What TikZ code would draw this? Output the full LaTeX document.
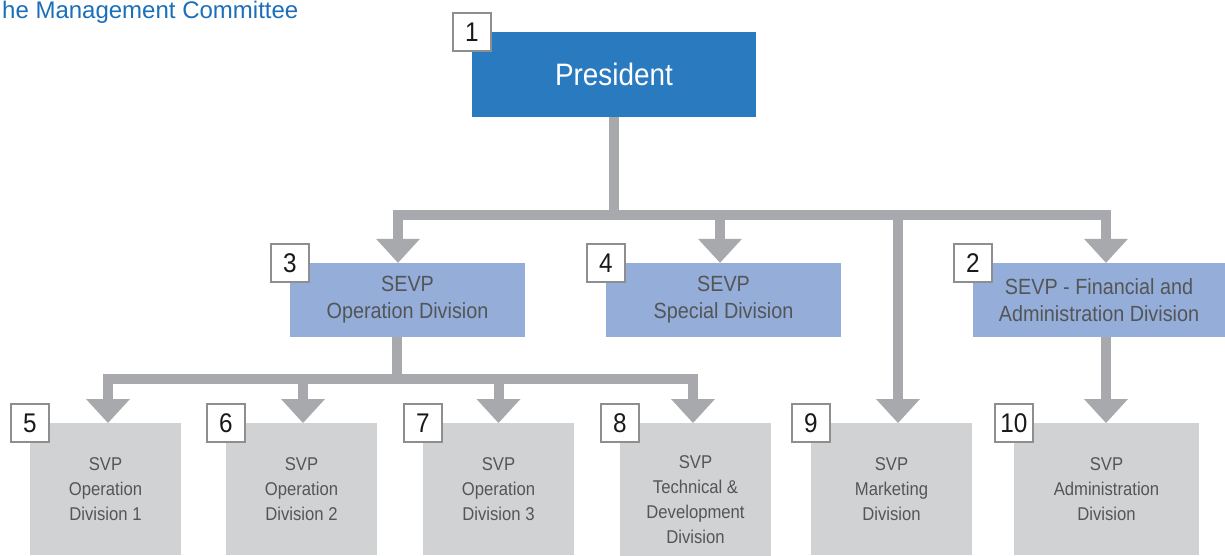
\documentclass[tikz,border=0pt]{standalone}
\usepackage{fontspec}
\setmainfont{Liberation Sans}[FakeStretch=0.9]
\newfontfamily\orgtitlefont{Liberation Sans}
\usetikzlibrary{arrows.meta,positioning}
\definecolor{orgblue}{HTML}{2A7ABF}
\definecolor{orgtitleblue}{HTML}{1B6FB8}
\definecolor{orgsevpfill}{HTML}{94AED9}
\definecolor{orgsvpfill}{HTML}{D1D2D4}
\definecolor{orgline}{HTML}{A7A9AC}
\definecolor{orgframe}{HTML}{8E8E8E}
\definecolor{orgtext}{HTML}{545557}
\newcommand{\orgsize}[2]{\fontsize{#1}{#2}\selectfont}
\tikzset{
  orgbox/.style={inner sep=2pt, align=center, text=orgtext},
  orgpres/.style={orgbox, fill=orgblue, text=white, font=\orgsize{31}{36}},
  orgsevp/.style={orgbox, fill=orgsevpfill, minimum width=235, minimum height=74, font=\orgsize{22}{27}},
  orgsvp/.style={orgbox, fill=orgsvpfill, anchor=north, minimum height=132, font=\orgsize{18.5}{25}},
  orgnum/.style={draw=orgframe, line width=2pt, fill=white, minimum size=38, inner sep=0pt, text=black!90, font=\orgsize{27}{27}},
  orgarr/.style={-{Triangle[length=24pt,width=44pt,line width=0pt]}, line width=10pt, draw=orgline},
  orgtitle/.style={inner sep=0pt, text=orgtitleblue, font=\orgtitlefont\orgsize{24}{30}},
}

\begin{document}
\begin{tikzpicture}[x=1pt, y=-1pt]
  \useasboundingbox (0,0) rectangle (1225,555);
  \clip (0,0) rectangle (1225,555);
  \node[orgtitle, anchor=base west] (title) at (2,18) {he Management Committee};
  % boxes
  \node[orgpres, minimum width=284, minimum height=85] (pres) at (614,74.5) {President};
  \node[orgsevp] (op) at (407.5,300) {SEVP\\Operation Division};
  \node[orgsevp] (spec) at (723.5,300) {SEVP\\Special Division};
  \node[orgsevp, minimum width=252] (fin) at (1099,300) {SEVP - Financial and\\Administration Division};
  \node[orgsvp, minimum width=151] (op1) at (105.5,423) {SVP\\Operation\\Division 1};
  \node[orgsvp, minimum width=151] (op2) at (301.5,423) {SVP\\Operation\\Division 2};
  \node[orgsvp, minimum width=151] (op3) at (498.5,423) {SVP\\Operation\\Division 3};
  \node[orgsvp, minimum width=151, minimum height=152] (tech) at (695.5,423) {SVP\\Technical \&\\Development\\Division};
  \node[orgsvp, minimum width=161] (mkt) at (891.5,423) {SVP\\Marketing\\Division};
  \node[orgsvp, minimum width=185] (adm) at (1106.5,423) {SVP\\Administration\\Division};
  % connectors
  \draw[orgarr] (pres.south) -- ++(0,98) -| ([xshift=-9.5pt]op.north);
  \draw[orgarr] (pres.south) -- ++(0,98) -| ([xshift=-3.5pt]spec.north);
  \draw[orgarr] (pres.south) -- ++(0,98) -| ([xshift=6.5pt]mkt.north);
  \draw[orgarr] (pres.south) -- ++(0,98) -| ([xshift=7pt]fin.north);
  \draw[orgarr] ([xshift=-10.5pt]op.south) -- ++(0,42) -| ([xshift=2.5pt]op1.north);
  \draw[orgarr] ([xshift=-10.5pt]op.south) -- ++(0,42) -| ([xshift=1.5pt]op2.north);
  \draw[orgarr] ([xshift=-10.5pt]op.south) -- ++(0,42) -| (op3.north);
  \draw[orgarr] ([xshift=-10.5pt]op.south) -- ++(0,42) -| ([xshift=-2.5pt]tech.north);
  \draw[orgarr] ([xshift=7pt]fin.south) -- ([xshift=-0.5pt]adm.north);
  % numbers
  \node[orgnum] (n1) at (pres.north west) {1};
  \node[orgnum] (n2) at (fin.north west) {2};
  \node[orgnum] (n3) at (op.north west) {3};
  \node[orgnum] (n4) at (spec.north west) {4};
  \node[orgnum] (n5) at (op1.north west) {5};
  \node[orgnum] (n6) at (op2.north west) {6};
  \node[orgnum] (n7) at (op3.north west) {7};
  \node[orgnum] (n8) at (tech.north west) {8};
  \node[orgnum] (n9) at (mkt.north west) {9};
  \node[orgnum] (n10) at (adm.north west) {10};
\end{tikzpicture}
\end{document}
